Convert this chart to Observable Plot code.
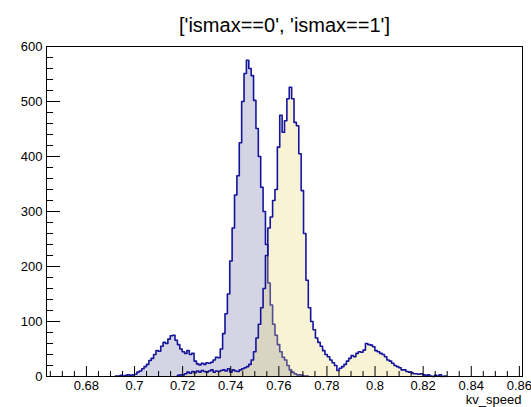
<!DOCTYPE html>
<html>
<head>
<meta charset="utf-8">
<script src="https://cdn.jsdelivr.net/npm/d3@7"></script>
<script src="https://cdn.jsdelivr.net/npm/@observablehq/plot@0.6"></script>
<style>
  html, body { margin: 0; padding: 0; background: white; overflow: hidden; }
</style>
</head>
<body>
<div id="chart"></div>
<script>
// ---- data ----
const title = "['ismax==0', 'ismax==1']";
const xTitle = "kv_speed";
const xMin = 0.6634, xMax = 0.8613, nBins = 200;

// ismax==0 : counts per bin, first bin index h0Start
const h0Start = 29;
const h0Counts = [1,1,2,1,2,3,2,3,4,8,
  10,14,18,22,29,33,40,47,46,55,
  62,60,68,74,75,66,58,50,45,42,
  47,40,42,28,23,21,24,22,25,24,
  26,30,35,34,50,78,114,150,210,270,
  330,365,425,500,551,575,560,547,502,451,
  400,344,300,240,170,130,95,75,58,45,
  35,30,20,12,8,5,3,3,2,1,
  1];

// ismax==1
const h1Start = 55;
const h1Counts = [2,3,3,5,8,6,9,7,10,8,
  11,9,8,10,12,8,10,9,11,12,
  10,14,8,12,10,9,12,14,16,18,
  22,30,45,70,95,125,160,220,270,290,
  320,340,417,475,444,465,505,526,505,462,
  456,405,338,260,175,125,100,85,70,62,
  55,47,40,36,30,25,20,11,15,18,
  22,28,33,38,36,42,45,44,48,60,
  58,57,54,47,45,42,40,36,30,28,
  24,20,18,16,12,12,9,8,7,5,
  5,4,5,3,2,3,1,0,2,1,
  3,0,1];

const xTicks = [0.68, 0.70, 0.72, 0.74, 0.76, 0.78, 0.80, 0.82, 0.84, 0.86];
const xTickLabels = ["0.68","0.7","0.72","0.74","0.76","0.78","0.8","0.82","0.84","0.86"];
const yTicks = [0, 100, 200, 300, 400, 500, 600];
const yTickLabels = ["0","100","200","300","400","500","600"];

// ---- derived ----
const binW = (xMax - xMin) / nBins;
function outline(start, counts) {
  const pts = [{x: xMin + start * binW, y: 0}];
  counts.forEach((c, i) => pts.push({x: xMin + (start + i) * binW, y: c}));
  pts.push({x: xMin + (start + counts.length) * binW, y: 0});
  return pts;
}
const o0 = outline(h0Start, h0Counts);
const o1 = outline(h1Start, h1Counts);
const xMinor = d3.range(0, 40).map(i => +(0.665 + i * 0.005).toFixed(3)).filter(v => v < xMax && !xTicks.some(t => Math.abs(t - v) < 1e-9));
const yMinor = d3.range(0, 31).map(i => i * 20).filter(v => v % 100 !== 0);

const W = 531, H = 407;
const mL = 46, mR = 9, mT = 46, mB = 31;
const pw = W - mL - mR, ph = H - mT - mB;
const lineColor = "#14149c";

const chart = Plot.plot({
  width: W, height: H,
  marginLeft: mL, marginRight: mR, marginTop: mT, marginBottom: mB,
  style: {fontFamily: "'Liberation Sans', Arial, Helvetica, sans-serif", fontSize: "13px", background: "white", color: "black"},
  x: {domain: [xMin, xMax], axis: null},
  y: {domain: [0, 600], axis: null},
  marks: [
    Plot.areaY(o0, {x: "x", y: "y", curve: "step-after", fill: "#8f8fbb", fillOpacity: 0.38}),
    Plot.lineY(o0, {x: "x", y: "y", curve: "step-after", stroke: lineColor, strokeWidth: 1.6}),
    Plot.areaY(o1, {x: "x", y: "y", curve: "step-after", fill: "#e6d870", fillOpacity: 0.3}),
    Plot.lineY(o1, {x: "x", y: "y", curve: "step-after", stroke: lineColor, strokeWidth: 1.6}),
    // x ticks (inside, ROOT style)
    Plot.ruleX(xTicks, {x: d => d, insetTop: ph - 10, stroke: "black"}),
    Plot.ruleX(xMinor, {x: d => d, insetTop: ph - 5, stroke: "black"}),
    // y ticks
    Plot.ruleY(yTicks, {y: d => d, insetRight: pw - 14, stroke: "black"}),
    Plot.ruleY(yMinor, {y: d => d, insetRight: pw - 7, stroke: "black"}),
    Plot.frame({stroke: "black", strokeWidth: 1}),
    // tick labels
    Plot.text(xTicks.map((v, i) => ({v, t: xTickLabels[i]})), {x: "v", text: "t", frameAnchor: "bottom", lineAnchor: "top", dy: 4, fill: "black"}),
    Plot.text(yTicks.map((v, i) => ({v, t: yTickLabels[i]})), {y: "v", text: "t", frameAnchor: "left", textAnchor: "end", dx: -4, fill: "black"}),
    Plot.text([xTitle], {frameAnchor: "bottom-right", textAnchor: "end", lineAnchor: "bottom", dy: 27, dx: -1, fill: "black"}),
    Plot.text([title], {frameAnchor: "top", dy: -29, fontSize: 20, fill: "black"})
  ]
});

document.getElementById("chart").appendChild(chart);
</script>
</body>
</html>
